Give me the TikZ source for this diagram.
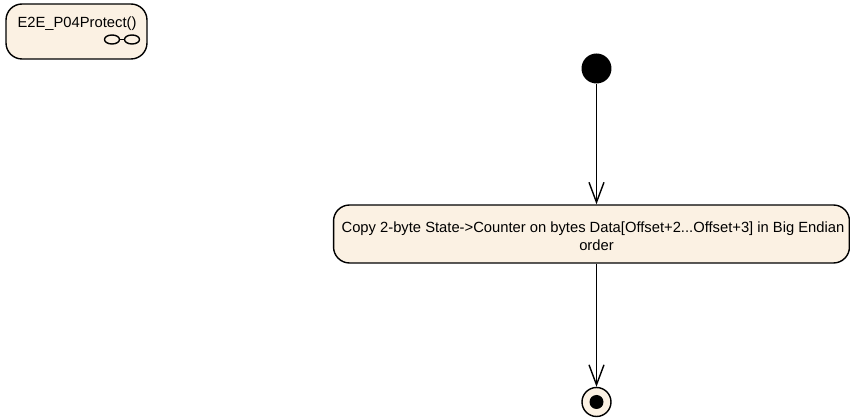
\documentclass[tikz,border=0pt]{standalone}
\usepackage{fontspec}
\setmainfont{Liberation Sans}
\usetikzlibrary{arrows.meta,positioning,shapes.geometric}

\definecolor{umlfill}{RGB}{251,241,227}
\tikzset{
  action node/.style={rectangle,rounded corners=0.32cm,draw,thick,fill=umlfill},
  label node/.style={align=center,inner sep=0pt,font=\fontsize{8.4pt}{10.2pt}\selectfont},
  link node/.style={ellipse,draw,thick,minimum width=0.3cm,minimum height=0.18cm,inner sep=0pt},
  start node/.style={circle,fill=black,minimum size=0.6cm,inner sep=0pt},
  end node/.style={circle,draw,thick,fill=umlfill,minimum size=0.58cm,inner sep=0pt},
  end dot/.style={circle,fill=black,minimum size=0.28cm,inner sep=0pt},
  flow/.style={-{Straight Barb[length=0.4cm,width=0.3cm]},thick},
}

\begin{document}
\begin{tikzpicture}[x=0.02cm,y=-0.02cm]
  \useasboundingbox (0,0) rectangle (850,418);
  \node[action node,minimum width=2.82cm,minimum height=1.1cm] (activity) at (76.5,31.5) {};
  \node[label node] (activity label) at (77,24) {E2E\_P04Protect()};
  \node[link node] (link a) at (112,39.5) {};
  \node[link node] (link b) at (132,39.5) {};
  \draw[thick] (link a) -- (link b);

  \node[start node] (start) at (596.5,68.5) {};
  \node[action node,minimum width=10.32cm,minimum height=1.16cm] (copy) at (591.5,234) {};
  \node[label node] (copy label) at (596.5,236) {Copy 2-byte State->Counter on bytes Data[Offset+2...Offset+3] in Big Endian\hspace{0.14cm}\mbox{}\\order};
  \node[end node] (end) at (596.5,402) {};
  \node[end dot] (end inner) at (596.5,402) {};

  \draw[flow] (start) -- (start |- copy.north);
  \draw[flow] (start |- copy.south) -- (end);
\end{tikzpicture}
\end{document}
